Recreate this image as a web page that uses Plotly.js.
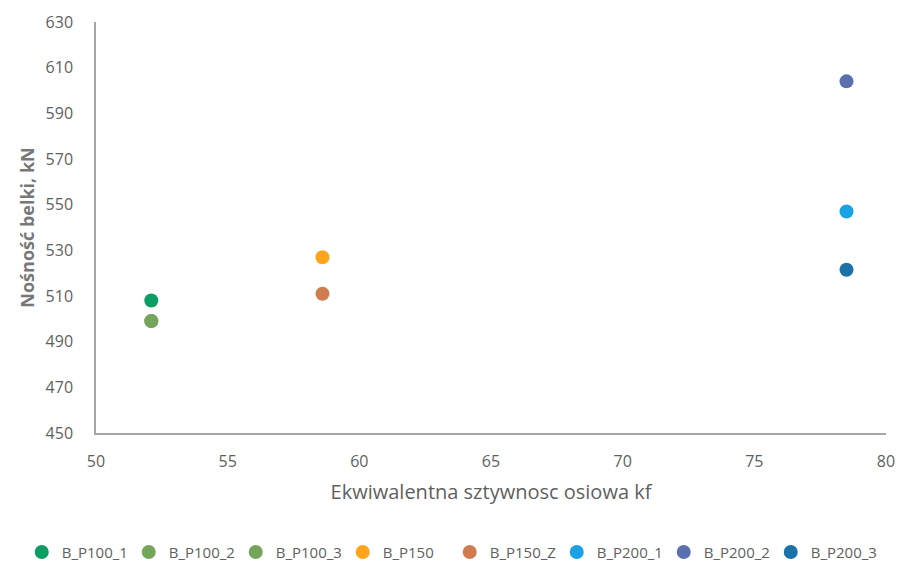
<!DOCTYPE html>
<html>
<head>
<meta charset="utf-8">
<script src="https://cdn.plot.ly/plotly-3.0.1.min.js"></script>
<style>html,body{margin:0;padding:0;background:#fff;}#chart{width:908px;height:565px;}</style>
</head>
<body>
<div id="chart"></div>
<script>
const seriesNames = ["B_P100_1","B_P100_2","B_P100_3","B_P150","B_P150_Z","B_P200_1","B_P200_2","B_P200_3"];
const stiffness = [52.1, 52.1, 52.1, 58.6, 58.6, 78.5, 78.5, 78.5];
const capacity = [508, 499, 499, 527, 511, 547, 604, 521.5];
const colors = ["#0a9e62","#74a55a","#74a55a","#ffa51c","#d07c4e","#19a2e6","#5a70ae","#1a72a8"];

const font = "Open Sans, sans-serif";
const grey = "#5f5f5f";

const traces = seriesNames.map((n, i) => ({
  type: "scatter",
  mode: "markers",
  name: n,
  x: [stiffness[i]],
  y: [capacity[i]],
  marker: {color: colors[i], size: 14}
}));

const layout = {
  width: 908, height: 565,
  margin: {l: 96, r: 22, t: 22, b: 132, autoexpand: false},
  paper_bgcolor: "#fff", plot_bgcolor: "#fff",
  showlegend: true,
  legend: {orientation: "h", x: -0.094, xanchor: "left", y: -0.29, yanchor: "middle",
           font: {family: font, size: 15, color: grey}, itemwidth: 30, tracegroupgap: 0,
           entrywidth: 62, entrywidthmode: "pixels"},
  xaxis: {
    range: [50, 80], dtick: 5, tick0: 50, showgrid: false, zeroline: false,
    showline: true, linecolor: "#a6a6a6", linewidth: 1.5, ticks: "",
    ticklabelstandoff: 13,
    tickfont: {family: font, size: 16, color: grey},
    title: {text: "Ekwiwalentna sztywnosc osiowa kf", font: {family: font, size: 20, color: grey}, standoff: 14}
  },
  yaxis: {
    range: [450, 630], dtick: 20, tick0: 450, showgrid: false, zeroline: false,
    showline: true, linecolor: "#a6a6a6", linewidth: 1.5, ticks: "",
    ticklabelstandoff: 18,
    tickfont: {family: font, size: 16, color: grey},
    title: {text: "<b>Nośność belki, kN</b>", font: {family: font, size: 18, color: "#777777"}, standoff: 6}
  }
};

Plotly.newPlot("chart", traces, layout, {displayModeBar: false});
</script>
</body>
</html>
